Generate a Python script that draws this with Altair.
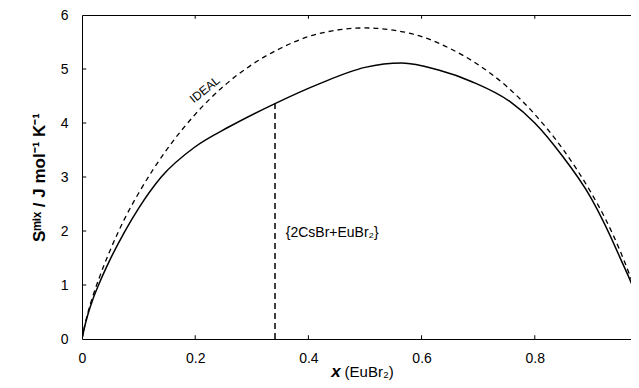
import altair as alt
import pandas as pd

# Ideal mixing entropy curve
x_ideal = [0, 0.005, 0.01, 0.02, 0.03, 0.05, 0.075, 0.1, 0.15, 0.2, 0.25, 0.3, 0.35, 0.4, 0.45, 0.5,
           0.55, 0.6, 0.65, 0.7, 0.75, 0.8, 0.85, 0.9, 0.925, 0.95, 0.97, 0.98, 0.99, 0.995, 1.0]
y_ideal = [0, 0.26, 0.47, 0.82, 1.12, 1.65, 2.22, 2.70, 3.51, 4.16, 4.68, 5.08, 5.38, 5.60, 5.72, 5.76,
           5.72, 5.60, 5.38, 5.08, 4.68, 4.16, 3.51, 2.70, 2.22, 1.65, 1.12, 0.82, 0.47, 0.26, 0]

# Measured mixing entropy curve (solid)
x_mix = [0, 0.005, 0.01, 0.02, 0.03, 0.05, 0.075, 0.10, 0.14, 0.20, 0.26, 0.341, 0.42, 0.50, 0.565,
         0.63, 0.69, 0.757, 0.80, 0.845, 0.90, 0.95, 0.985, 1.0]
y_mix = [0, 0.24, 0.44, 0.76, 1.02, 1.48, 1.98, 2.42, 3.00, 3.56, 3.93, 4.36, 4.73, 5.03, 5.11,
         4.98, 4.76, 4.39, 4.00, 3.44, 2.60, 1.52, 0.61, 0]

# compound composition marker
x_compound = [0.341, 0.341]
y_compound = [0, 4.36]

x_ticks = [0, 0.2, 0.4, 0.6, 0.8]
y_ticks = [0, 1, 2, 3, 4, 5, 6]
x_min, x_max = 0, 0.970
y_min, y_max = 0, 6

FONT = "Arial, Liberation Sans, sans-serif"

ideal_df = pd.DataFrame({"x": x_ideal, "y": y_ideal})
mix_df = pd.DataFrame({"x": x_mix, "y": y_mix})
comp_df = pd.DataFrame({"x": x_compound, "y": y_compound})

xs = alt.Scale(domain=[x_min, x_max], nice=False, zero=False)
ys = alt.Scale(domain=[y_min, y_max], nice=False)

x_axis = alt.Axis(values=x_ticks, format="~g", ticks=False, grid=False, labelPadding=12,
                  labelFontSize=14, labelFont=FONT, labelColor="black", domainColor="black",
                  title=None, labelFlush=False)
y_axis = alt.Axis(values=y_ticks, format="~g", ticks=False, grid=False, labelPadding=14,
                  labelFontSize=14, labelFont=FONT, labelColor="black", domainColor="black",
                  title="Sᵐⁱˣ / J mol⁻¹ K⁻¹", titleFont=FONT, titleFontSize=17,
                  titleFontWeight="bold", titleColor="black", titlePadding=12, labelFlush=False)


def X(axis=None):
    return alt.X("x:Q", scale=xs, axis=axis)


def Y(axis=None):
    if axis is None:
        return alt.Y("y:Q", scale=ys)
    return alt.Y("y:Q", scale=ys, axis=axis)


ideal = alt.Chart(ideal_df).mark_line(color="black", strokeWidth=1.3, strokeDash=[5, 4],
                                      interpolate="monotone", clip=True).encode(
    x=X(x_axis), y=Y(y_axis))

mix = alt.Chart(mix_df).mark_line(color="black", strokeWidth=1.5, interpolate="monotone",
                                  clip=True).encode(x=X(), y=Y())

comp = alt.Chart(comp_df).mark_line(color="black", strokeWidth=1.5, strokeDash=[6, 4]).encode(
    x=X(), y=Y())

# inward tick marks
tick_len_y = 0.07
tick_len_x = 0.0075
bt_df = pd.DataFrame({"x": x_ticks[1:], "y": [y_min] * 4, "y2": [y_min + tick_len_y] * 4})
tt_df = pd.DataFrame({"x": x_ticks[1:], "y": [y_max] * 4, "y2": [y_max - tick_len_y] * 4})
lt_df = pd.DataFrame({"y": y_ticks[1:-1], "x": [x_min] * 5, "x2": [x_min + tick_len_x] * 5})

bt = alt.Chart(bt_df).mark_rule(color="black", strokeWidth=1).encode(x=X(), y=Y(), y2="y2:Q")
tt = alt.Chart(tt_df).mark_rule(color="black", strokeWidth=1).encode(
    x=X(alt.Axis(orient="top", labels=False, ticks=False, grid=False, title=None,
                 domainColor="black")),
    y=Y(), y2="y2:Q")
lt = alt.Chart(lt_df).mark_rule(color="black", strokeWidth=1).encode(y=Y(), x=X(), x2="x2:Q")

# annotations
ideal_lbl = alt.Chart(pd.DataFrame({"x": [0.217], "y": [4.62], "t": ["IDEAL"]})).mark_text(
    font=FONT, fontSize=12, angle=321, color="black").encode(x=X(), y=Y(), text="t:N")

comp_lbl = alt.Chart(pd.DataFrame({"x": [0.36], "y": [1.96], "t": ["{2CsBr+EuBr₂}"]})).mark_text(
    font=FONT, fontSize=14, align="left", color="black").encode(x=X(), y=Y(), text="t:N")

xt1 = alt.Chart(pd.DataFrame({"x": [0.457], "y": [-0.61], "t": ["x"]})).mark_text(
    font=FONT, fontSize=17, fontWeight="bold", fontStyle="italic", align="right",
    color="black").encode(x=X(), y=Y(), text="t:N")
xt2 = alt.Chart(pd.DataFrame({"x": [0.464], "y": [-0.61], "t": ["(EuBr₂)"]})).mark_text(
    font=FONT, fontSize=15, align="left", color="black").encode(x=X(), y=Y(), text="t:N")

chart = alt.layer(ideal, mix, comp, bt, tt, lt, ideal_lbl, comp_lbl, xt1, xt2).resolve_axis(
    x="independent"
).properties(
    width=549, height=324,
    autosize=alt.AutoSizeParams(type="none"),
    padding={"left": 74, "top": 7, "right": 0, "bottom": 41},
).configure_view(stroke=None).configure(background="white")

chart.save("out.html", embed_options={"renderer": "svg", "actions": False})
